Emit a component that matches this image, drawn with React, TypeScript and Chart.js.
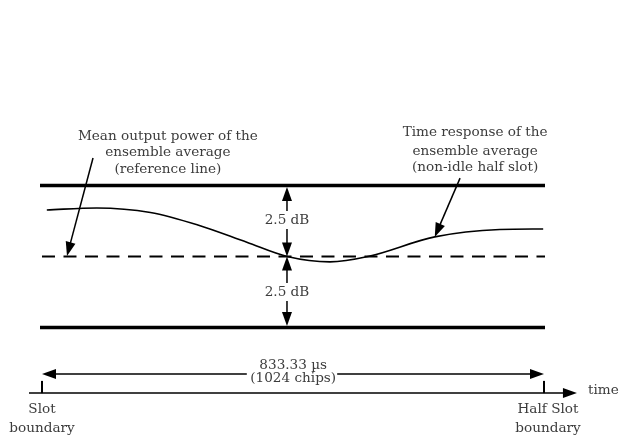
import React, { useEffect, useRef } from "react";
import { Chart, registerables } from "chart.js";
Chart.register(...registerables);

// Time in microseconds from the slot boundary, power in dB relative to the mean
const curveTimes = [8, 91, 180, 260, 340, 407, 478, 541, 652, 760, 832];
const curveDb = [1.64, 1.71, 1.55, 1.1, 0.5, 0, -0.19, 0, 0.69, 0.95, 0.97];
const limitTimes = [-3.3, 835];
const upperLimitDb = [2.5, 2.5];
const lowerLimitDb = [-2.5, -2.5];
const referenceTimes = [0, 835];
const referenceDb = [0, 0];
const timeAxisTimes = [-21.6, 888];
const timeAxisDb = -4.81;
const slotBoundaries = [0, 833.33];
const boundaryLabels = [["Slot", "boundary"], ["Half Slot", "boundary"]];
const spanLabels = ["833.33 µs", "(1024 chips)"];
const marginLabel = "2.5 dB";
const marginTime = 406.7;
const leftNote = ["Mean output power of the", "ensemble average", "(reference line)"];
const rightNote = ["Time response of the", "ensemble average", "(non-idle half slot)"];

const FONT = '13.6px "DejaVu Serif"';
const TEXT = "#3c3c3c";

function head(ctx: CanvasRenderingContext2D, tx: number, ty: number, fx: number, fy: number, len = 11, hw = 4.5) {
  const a = Math.atan2(ty - fy, tx - fx);
  const bx = tx - Math.cos(a) * len, by = ty - Math.sin(a) * len;
  const nx = -Math.sin(a) * hw, ny = Math.cos(a) * hw;
  ctx.beginPath();
  ctx.moveTo(tx, ty);
  ctx.lineTo(bx + nx, by + ny);
  ctx.lineTo(bx - nx, by - ny);
  ctx.closePath();
  ctx.fill();
}

function line(ctx: CanvasRenderingContext2D, x1: number, y1: number, x2: number, y2: number, w: number) {
  ctx.lineWidth = w;
  ctx.beginPath();
  ctx.moveTo(x1, y1);
  ctx.lineTo(x2, y2);
  ctx.stroke();
}

const annotPlugin = {
  id: "annot",
  afterDatasetsDraw(chart: any) {
    const ctx: CanvasRenderingContext2D = chart.ctx;
    const xs = chart.scales.x, ys = chart.scales.y;
    const X = (v: number) => xs.getPixelForValue(v);
    const Y = (v: number) => ys.getPixelForValue(v);
    ctx.save();
    ctx.strokeStyle = "#000";
    ctx.fillStyle = "#000";
    ctx.font = FONT;
    ctx.textAlign = "center";
    ctx.textBaseline = "middle";

    // time axis
    const ay = Y(timeAxisDb);
    line(ctx, X(timeAxisTimes[0]), ay, X(timeAxisTimes[1]) - 10, ay, 1.5);
    head(ctx, X(timeAxisTimes[1]), ay, X(timeAxisTimes[0]), ay, 14, 5);
    ctx.fillStyle = TEXT;
    ctx.textAlign = "left";
    ctx.fillText("time", X(timeAxisTimes[1]) + 11, Y(-4.70));
    ctx.textAlign = "center";
    ctx.fillStyle = "#000";

    // slot boundary ticks and labels
    slotBoundaries.forEach((t, i) => {
      line(ctx, X(t), Y(-4.38), X(t), ay, 2);
      ctx.fillStyle = TEXT;
      const cx = i === 0 ? X(t) : X(t) + 4;
      ctx.fillText(boundaryLabels[i][0], cx, Y(-5.40));
      ctx.fillText(boundaryLabels[i][1], cx, Y(-6.04));
      ctx.fillStyle = "#000";
    });

    // 833.33 us span arrow
    const sy = Y(-4.137);
    const l = X(slotBoundaries[0]), r = X(slotBoundaries[1]);
    line(ctx, l + 8, sy, X(340), sy, 1.5);
    line(ctx, X(490), sy, r - 8, sy, 1.5);
    head(ctx, l, sy, r, sy, 14, 5);
    head(ctx, r, sy, l, sy, 14, 5);
    ctx.fillStyle = TEXT;
    ctx.fillText(spanLabels[0], X(417), Y(-3.82));
    ctx.fillText(spanLabels[1], X(417), Y(-4.30));
    ctx.fillStyle = "#000";

    // 2.5 dB margin arrows
    const mx = X(marginTime);
    const yTop = Y(upperLimitDb[0]), yMid = Y(0), yBot = Y(lowerLimitDb[0]);
    const t1 = Y(1.285), t2 = Y(-1.25);
    line(ctx, mx, yTop + 8, mx, t1 - 9, 1.5);
    line(ctx, mx, t1 + 9, mx, yMid - 8, 1.5);
    line(ctx, mx, yMid + 8, mx, t2 - 9, 1.5);
    line(ctx, mx, t2 + 9, mx, yBot - 8, 1.5);
    head(ctx, mx, yTop + 1.5, mx, yMid, 14, 5);
    head(ctx, mx, yMid, mx, yTop, 14, 5);
    head(ctx, mx, yMid, mx, yBot, 14, 5);
    head(ctx, mx, yBot - 1.5, mx, yMid, 14, 5);
    ctx.fillStyle = TEXT;
    ctx.fillText(marginLabel, mx, t1);
    ctx.fillText(marginLabel, mx, t2);

    // notes
    const lx = X(209);
    [4.24, 3.66, 3.06].forEach((v, i) => ctx.fillText(leftNote[i], lx, Y(v)));
    const rx = X(719);
    [4.35, 3.71, 3.12].forEach((v, i) => ctx.fillText(rightNote[i], rx, Y(v)));

    ctx.fillStyle = "#000";
    // note arrows
    const a1 = [X(84.7), Y(3.47)], b1 = [X(41.5), Y(0.02)];
    line(ctx, a1[0], a1[1], b1[0] + (a1[0] - b1[0]) * 0.1, b1[1] + (a1[1] - b1[1]) * 0.1, 1.5);
    head(ctx, b1[0], b1[1], a1[0], a1[1], 14, 5);
    const a2 = [X(694), Y(2.76)], b2 = [X(652), Y(0.69)];
    line(ctx, a2[0], a2[1], b2[0] + (a2[0] - b2[0]) * 0.15, b2[1] + (a2[1] - b2[1]) * 0.15, 1.5);
    head(ctx, b2[0], b2[1], a2[0], a2[1], 14, 5);
    ctx.restore();
  },
};

const pts = (xs: number[], ys: number[]) => xs.map((x, i) => ({ x, y: ys[i] }));

export default function App() {
  const ref = useRef<HTMLCanvasElement>(null);
  useEffect(() => {
    if (!ref.current) return;
    const chart = new Chart(ref.current, {
      type: "line",
      data: {
        datasets: [
          { data: pts(limitTimes, upperLimitDb), borderColor: "#000", borderWidth: 3.5, pointRadius: 0 },
          { data: pts(limitTimes, lowerLimitDb), borderColor: "#000", borderWidth: 3.5, pointRadius: 0 },
          { data: pts(referenceTimes, referenceDb), borderColor: "#000", borderWidth: 2, borderDash: [13, 8.5], pointRadius: 0 },
          { data: pts(curveTimes, curveDb), borderColor: "#000", borderWidth: 1.6, pointRadius: 0, cubicInterpolationMode: "monotone" },
        ],
      },
      options: {
        animation: false,
        responsive: false,
        events: [],
        layout: { padding: 0 },
        plugins: { legend: { display: false }, tooltip: { enabled: false } },
        scales: {
          x: { type: "linear", min: -69.7, max: 967.8, display: false },
          y: { type: "linear", min: -6.426, max: 9.032, display: false },
        },
      },
      plugins: [annotPlugin],
    });
    return () => chart.destroy();
  }, []);
  return (
    <div style={{ position: "fixed", left: 0, top: 0, width: 625, height: 439, background: "#fff" }}>
      <canvas ref={ref} width={625} height={439} />
    </div>
  );
}
